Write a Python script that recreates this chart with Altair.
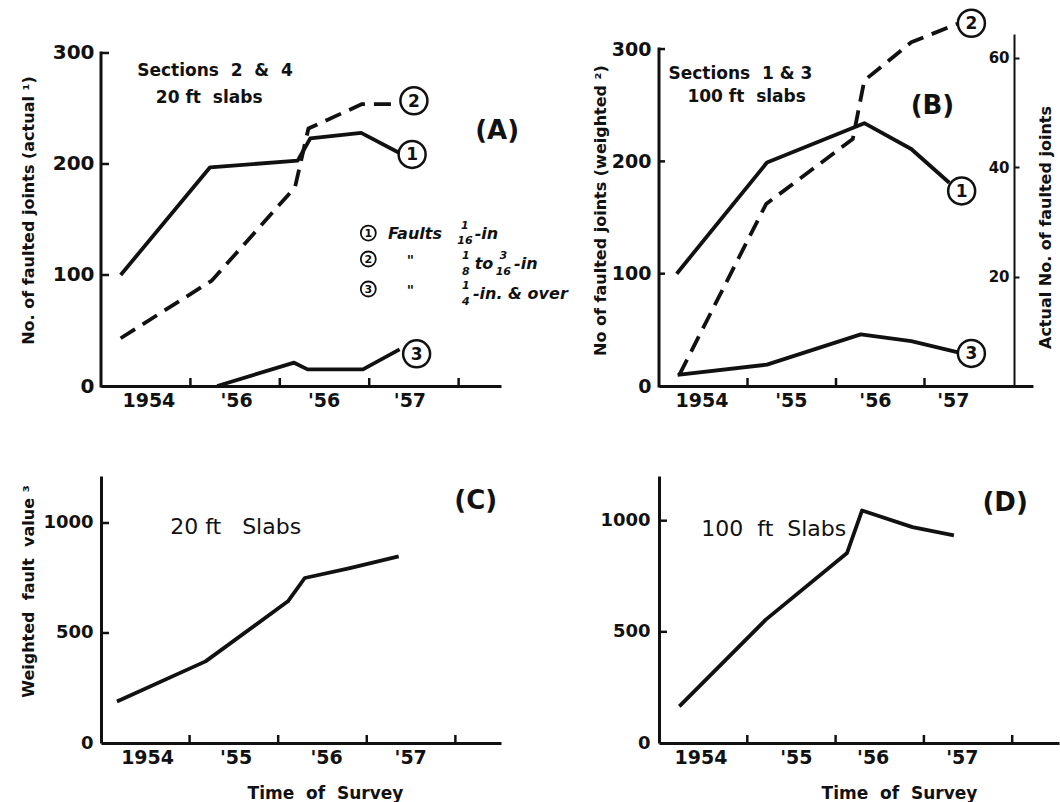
import json
import pandas as pd
import altair as alt

FONT = "DejaVu Sans"
INK = "#111111"
NB = "\u00a0"

# ---------------- data (x in survey-year bands: 0 = start of the 1954 band) ----------------
# Panel A - Sections 2 & 4, 20 ft slabs (actual number of faulted joints)
a_fault1_x = [0.22, 1.22, 2.20, 2.34, 2.91, 3.36]
a_fault1_y = [100, 197, 203, 223, 228, 209]
a_fault2_x = [0.22, 1.24, 2.17, 2.32, 2.92, 3.34]
a_fault2_y = [43, 95, 179, 232, 254, 254]
a_fault3_x = [1.30, 2.16, 2.31, 2.93, 3.34]
a_fault3_y = [0, 21, 15, 15, 33]

# Panel B - Sections 1 & 3, 100 ft slabs (weighted number of faulted joints)
b_fault1_x = [0.20, 1.22, 2.32, 2.85, 3.28]
b_fault1_y = [100, 199, 234, 211, 181]
b_fault2_x = [0.23, 1.21, 2.19, 2.32, 2.85, 3.39]
b_fault2_y = [10, 162, 220, 272, 306, 323]
b_fault3_x = [0.21, 1.22, 2.28, 2.85, 3.38]
b_fault3_y = [10, 19, 46, 40, 30]

# Panel C - weighted fault value, 20 ft slabs
c_x = [0.18, 1.18, 2.11, 2.30, 2.81, 3.36]
c_y = [189, 371, 644, 750, 795, 848]
# Panel D - weighted fault value, 100 ft slabs
d_x = [0.23, 1.21, 2.13, 2.30, 2.87, 3.34]
d_y = [165, 555, 855, 1046, 971, 934]

# axis labels / ticks
a_xlabels = ["1954", "'56", "'56", "'57"]
bcd_xlabels = ["1954", "'55", "'56", "'57"]
a_xlabel_pos = [0.53, 1.51, 2.49, 3.45]
b_xlabel_pos = [0.48, 1.49, 2.44, 3.32]
c_xlabel_pos = [0.52, 1.52, 2.54, 3.49]
d_xlabel_pos = [0.47, 1.55, 2.42, 3.43]
x_band_ticks = [1, 2, 3, 4]
b_band_ticks = [1, 2, 3]
ab_yvalues = [0, 100, 200, 300]
ab_yticks = [100, 200, 300]
b_right_values = [20, 40, 60]
cd_yvalues = [0, 500, 1000]
cd_yticks = [500, 1000]

# annotations
a_note_text = [f"Sections{NB} 2{NB} &{NB} 4", f"20 ft{NB} slabs"]
a_note_x = [1.275, 1.21]
a_note_y = [284, 259.5]
b_note_text = [f"Sections{NB} 1 & 3", f"100 ft{NB} slabs"]
b_note_x = [0.92, 0.99]
b_note_y = [277.7, 257]
a_tag = ["1", "2", "3"]
a_tag_x = [3.48, 3.50, 3.53]
a_tag_y = [208.6, 257, 29]
b_tag = ["1", "2", "3"]
b_tag_x = [3.42, 3.53, 3.53]
b_tag_y = [173.7, 323, 29]

# legend of panel A
leg_num = ["1", "2", "3"]
leg_circle_x = [2.99, 2.99, 2.99]
leg_circle_y = [137.8, 114.4, 87.4]
leg_word = ["Faults", "-in", "to", "-in", "-in. & over"]
leg_word_x = [3.21, 4.18, 4.18, 4.62, 4.16]
leg_word_y = [137, 137, 110, 110, 82.9]
leg_ditto = ['"', '"']
leg_ditto_x = [3.46, 3.46]
leg_ditto_y = [112.6, 85.6]
frac_top = ["1", "1", "3", "1"]
frac_bot = ["16", "8", "16", "4"]
frac_x = [4.07, 4.08, 4.50, 4.08]
frac_top_y = [144.5, 117.5, 117.5, 90.5]
frac_bot_y = [131, 103, 103, 76]


# ---------------- helpers ----------------
def series(xs, ys, name):
    return pd.DataFrame({"x": xs, "y": ys, "s": name})


def notes(texts, xs, ys):
    return pd.DataFrame({"x": xs, "y": ys, "t": texts})


def x_axis(pos, labels, title=None, title_x=0):
    expr = "".join(
        f"datum.value < {i + 1} ? {json.dumps(t)} : " for i, t in enumerate(labels[:-1])
    ) + json.dumps(labels[-1])
    kw = dict(values=pos, labelExpr=expr, ticks=False, grid=False, domain=True,
              domainColor=INK, domainWidth=3, labelFont=FONT, labelFontSize=19,
              labelFontWeight="bold", labelColor=INK, labelPadding=5,
              labelFlush=False, labelOverlap=False)
    if title:
        kw.update(title=title, titleFont=FONT, titleFontSize=17, titleFontWeight="bold",
                  titleColor=INK, titleX=title_x, titleY=50, titleAlign="center",
                  titleBaseline="middle", titleAngle=0)
    else:
        kw["title"] = None
    return alt.Axis(**kw)


def y_axis(values, title=None, title_x=0, title_y=0, domain=False, pad=7, size=20):
    kw = dict(values=values, ticks=False, grid=False, domain=domain, labelFont=FONT,
              labelFontSize=size, labelFontWeight="bold", labelColor=INK, labelPadding=pad,
              labelFlush=False, labelOverlap=False, format="d")
    if domain:
        kw.update(domainColor=INK, domainWidth=3)
    if title:
        kw.update(title=title, titleFont=FONT, titleFontSize=16, titleFontWeight="bold",
                  titleColor=INK, titleX=title_x, titleY=title_y, titleAngle=270,
                  titleAlign="center", titleBaseline="middle")
    else:
        kw["title"] = None
    return alt.Axis(**kw)


class Panel:
    def __init__(self, xs, ys, xax, yax, h):
        self.xs, self.ys, self.xax, self.yax, self.h = xs, ys, xax, yax, h

    def X(self, f="x:Q"):
        return alt.X(f, scale=self.xs, axis=self.xax)

    def Y(self, f="y:Q"):
        return alt.Y(f, scale=self.ys, axis=self.yax)

    def line(self, df, dashed=False):
        kw = dict(color=INK, strokeWidth=3.8, strokeJoin="round")
        if dashed:
            kw["strokeDash"] = [17, 9]
        return alt.Chart(df).mark_line(**kw).encode(
            x=self.X(), y=self.Y(), detail="s:N", order="x:Q")

    def text(self, df, size, weight="bold", style="normal", align="center", dy=0):
        return alt.Chart(df).mark_text(font=FONT, fontSize=size, fontWeight=weight,
                                       fontStyle=style, align=align, baseline="middle",
                                       color=INK, dy=dy).encode(
            x=self.X(), y=self.Y(), text="t:N")

    def circles(self, df, size, sw):
        return alt.Chart(df).mark_point(shape="circle", size=size, filled=True, fill="white",
                                        stroke=INK, strokeWidth=sw, opacity=1).encode(
            x=self.X(), y=self.Y())

    def x_ticks(self, ticks, length=8):
        return alt.Chart(pd.DataFrame({"t": ticks})).mark_rule(color=INK, strokeWidth=2.5).encode(
            x=self.X("t:Q"), y=alt.value(self.h), y2=alt.value(self.h - length))

    def y_ticks(self, ticks, length=8):
        return alt.Chart(pd.DataFrame({"t": ticks})).mark_rule(color=INK, strokeWidth=2.5).encode(
            y=self.Y("t:Q"), x=alt.value(0), x2=alt.value(length))

    def y_line(self, lo, hi):
        return alt.Chart(pd.DataFrame({"lo": [lo], "hi": [hi]})).mark_rule(
            color=INK, strokeWidth=3, strokeCap="square").encode(
            x=alt.value(0), y=self.Y("lo:Q"), y2="hi:Q")


# ---------------- panel A ----------------
AW, AH = 400, 352
pa = Panel(alt.Scale(domain=[0, 4.474], nice=False, zero=False),
           alt.Scale(domain=[0, 317.1], nice=False, zero=False),
           x_axis(a_xlabel_pos, a_xlabels),
           y_axis(ab_yvalues, "No. of faulted joints (actual ¹)", -73, 176), AH)
a_solid = pd.concat([series(a_fault1_x, a_fault1_y, "1"), series(a_fault3_x, a_fault3_y, "3")])
a_dash = series(a_fault2_x, a_fault2_y, "2")

anchor = alt.Chart(pd.DataFrame({"a": [0]})).mark_rule(opacity=0, strokeWidth=0).encode(
    x=alt.value(-100), x2=alt.value(-99), y=alt.value(-33), y2=alt.value(-33))

panel_a = alt.layer(
    pa.line(a_solid),
    pa.line(a_dash, dashed=True),
    pa.y_line(0, 300),
    pa.x_ticks(x_band_ticks),
    pa.y_ticks(ab_yticks),
    pa.circles(notes(a_tag, a_tag_x, a_tag_y), 729, 2.5),
    pa.text(notes(a_tag, a_tag_x, a_tag_y), 17, dy=1),
    pa.text(notes(a_note_text, a_note_x, a_note_y), 17),
    pa.text(notes(["(A)"], [4.43], [230]), 26),
    pa.circles(notes(leg_num, leg_circle_x, leg_circle_y), 225, 1.8),
    pa.text(notes(leg_num, leg_circle_x, leg_circle_y), 11, dy=1),
    pa.text(notes(leg_word, leg_word_x, leg_word_y), 16, style="italic", align="left"),
    pa.text(notes(leg_ditto, leg_ditto_x, leg_ditto_y), 14, style="italic"),
    pa.text(notes(frac_top, frac_x, frac_top_y), 11, style="italic"),
    pa.text(notes(frac_bot, frac_x, frac_bot_y), 11, style="italic"),
    anchor,
).properties(width=AW, height=AH)

# ---------------- panel B ----------------
BW, BH = 374, 352
pb = Panel(alt.Scale(domain=[0, 4.226], nice=False, zero=False),
           alt.Scale(domain=[0, 313.4], nice=False, zero=False),
           x_axis(b_xlabel_pos, bcd_xlabels),
           y_axis(ab_yvalues, "No of faulted joints (weighted ²)", -59, 176, pad=8, size=19), BH)
b_solid = pd.concat([series(b_fault1_x, b_fault1_y, "1"), series(b_fault3_x, b_fault3_y, "3")])
b_dash = series(b_fault2_x, b_fault2_y, "2")

b_left = alt.layer(
    pb.line(b_solid),
    pb.line(b_dash, dashed=True),
    pb.y_line(0, 300),
    pb.x_ticks(b_band_ticks),
    pb.y_ticks(ab_yticks, 6),
    pb.circles(notes(b_tag, b_tag_x, b_tag_y), 729, 2.5),
    pb.text(notes(b_tag, b_tag_x, b_tag_y), 17, dy=1),
    pb.text(notes(b_note_text, b_note_x, b_note_y), 17),
    pb.text(notes(["(B)"], [3.09], [249.5]), 26),
)
b_right = alt.Chart(pd.DataFrame({"v": b_right_values})).mark_point(opacity=0).encode(
    x=alt.value(0),
    y=alt.Y("v:Q", scale=alt.Scale(domain=[0, 64.3], nice=False, zero=False),
            axis=alt.Axis(orient="right", values=b_right_values, offset=-19, tickSize=5,
                          tickWidth=2, tickColor=INK, domainColor=INK, domainWidth=2,
                          labelAlign="right", labelPadding=-10, labelFont=FONT,
                          labelFontSize=15, labelFontWeight="bold", labelColor=INK,
                          grid=False, labelFlush=False, labelOverlap=False,
                          title="Actual No. of faulted joints", titleAngle=270, titleX=31,
                          titleY=193, titleAlign="center", titleBaseline="middle",
                          titleFont=FONT, titleFontSize=16, titleFontWeight="bold",
                          titleColor=INK)),
)
panel_b = alt.layer(b_left, b_right).resolve_scale(y="independent").properties(width=BW, height=BH)

# ---------------- panel C ----------------
CW, CH = 400, 267
pc = Panel(alt.Scale(domain=[0, 4.515], nice=False, zero=False),
           alt.Scale(domain=[0, 1213.6], nice=False, zero=False),
           x_axis(c_xlabel_pos, bcd_xlabels, f"Time{NB} of{NB} Survey", 224),
           y_axis(cd_yvalues, f"Weighted{NB} fault{NB} value ³", -73, 115, domain=True, pad=8,
                  size=18), CH)
panel_c = alt.layer(
    pc.line(series(c_x, c_y, "c")),
    pc.x_ticks(x_band_ticks),
    pc.y_ticks(cd_yticks),
    pc.text(notes([f"20 ft{NB}{NB} Slabs"], [1.52], [980]), 22, weight="normal"),
    pc.text(notes(["(C)"], [4.23], [1098]), 26),
).properties(width=CW, height=CH)

# ---------------- panel D ----------------
DW, DH = 400, 267
pd_ = Panel(alt.Scale(domain=[0, 4.53], nice=False, zero=False),
            alt.Scale(domain=[0, 1201], nice=False, zero=False),
            x_axis(d_xlabel_pos, bcd_xlabels, f"Time{NB} of{NB} Survey", 240),
            y_axis(cd_yvalues, domain=True, pad=9, size=18), DH)
panel_d = alt.layer(
    pd_.line(series(d_x, d_y, "d")),
    pd_.x_ticks(x_band_ticks),
    pd_.y_ticks(cd_yticks),
    pd_.text(notes([f"100{NB} ft{NB} Slabs"], [1.30], [962]), 22, weight="normal"),
    pd_.text(notes(["(D)"], [3.92], [1079]), 26),
).properties(width=DW, height=DH)

chart = alt.concat(
    panel_a, panel_b, panel_c, panel_d,
    columns=2, spacing={"row": 90, "column": 158}, bounds="flush", align="all",
).properties(padding=0, background="white").configure_view(stroke="transparent")

chart.save("out.html", embed_options={"renderer": "svg", "actions": False})
